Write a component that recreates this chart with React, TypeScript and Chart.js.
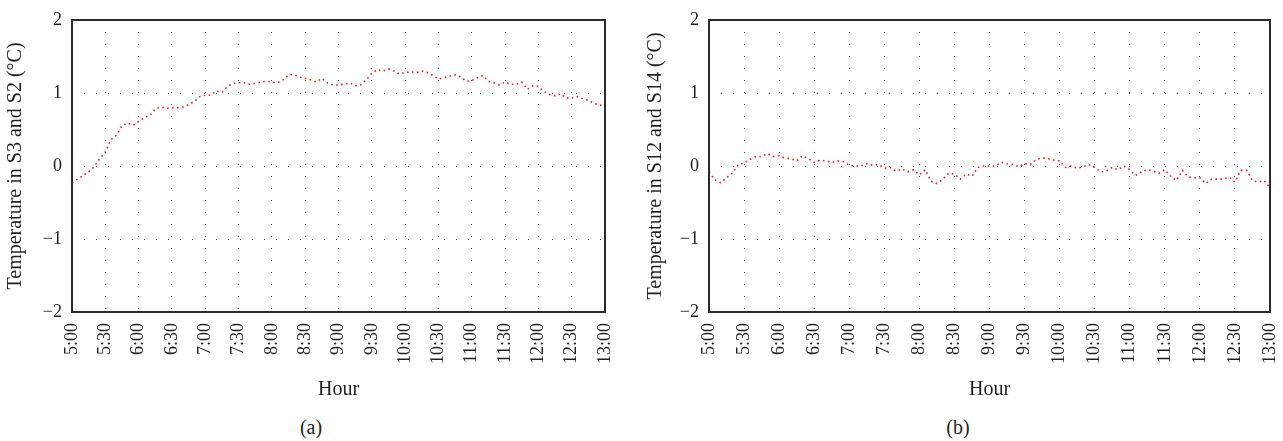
import React, { useEffect, useRef } from 'react';
import { Chart, registerables } from 'chart.js';

Chart.register(...registerables);

// Sampling step of the recorded series, in minutes after 5:00
const stepMinutes = 5;

const xTickLabels = [
  '5:00', '5:30', '6:00', '6:30', '7:00', '7:30', '8:00', '8:30', '9:00',
  '9:30', '10:00', '10:30', '11:00', '11:30', '12:00', '12:30', '13:00',
];

const yTickValues = [-2, -1, 0, 1, 2];

// (a) Temperature difference S3 - S2 (°C)
const seriesA = [
  -0.23, -0.18, -0.13, -0.08, -0.01, 0.1, 0.19, 0.36, 0.42, 0.55,
  0.59, 0.56, 0.61, 0.66, 0.69, 0.78, 0.81, 0.79, 0.8, 0.8,
  0.81, 0.84, 0.88, 0.95, 0.97, 0.97, 1.03, 1.01, 1.09, 1.13,
  1.14, 1.14, 1.12, 1.13, 1.15, 1.16, 1.15, 1.14, 1.18, 1.25,
  1.25, 1.22, 1.2, 1.18, 1.15, 1.2, 1.14, 1.11, 1.11, 1.12,
  1.14, 1.1, 1.11, 1.18, 1.27, 1.32, 1.3, 1.33, 1.3, 1.26,
  1.28, 1.29, 1.28, 1.3, 1.28, 1.24, 1.19, 1.21, 1.23, 1.25,
  1.22, 1.16, 1.17, 1.21, 1.24, 1.16, 1.14, 1.11, 1.15, 1.12,
  1.12, 1.15, 1.05, 1.1, 1.09, 1.02, 0.98, 0.96, 0.99, 0.93,
  0.93, 0.95, 0.92, 0.9, 0.86, 0.83, 0.84,
];

// (b) Temperature difference S12 - S14 (°C)
const seriesB = [
  -0.08, -0.19, -0.23, -0.16, -0.1, 0.02, 0.04, 0.09, 0.13, 0.13,
  0.17, 0.13, 0.14, 0.11, 0.1, 0.07, 0.14, 0.1, 0.05, 0.08,
  0.07, 0.05, 0.07, 0.06, 0.01, 0.0, 0.0, 0.03, 0.01, 0.02,
  -0.03, -0.02, -0.07, -0.04, -0.08, -0.05, -0.12, -0.05, -0.21, -0.24,
  -0.18, -0.1, -0.11, -0.18, -0.11, -0.14, -0.02, 0.0, 0.0, 0.0,
  0.05, 0.03, 0.02, -0.01, 0.03, 0.02, 0.09, 0.11, 0.1, 0.08,
  0.07, -0.02, 0.0, -0.03, -0.01, 0.02, -0.02, -0.08, -0.07, -0.02,
  -0.05, 0.0, -0.05, -0.13, -0.08, -0.05, -0.07, -0.1, -0.05, -0.14,
  -0.2, -0.06, -0.15, -0.16, -0.16, -0.24, -0.18, -0.18, -0.18, -0.15,
  -0.22, -0.06, -0.06, -0.2, -0.22, -0.2, -0.3,
];

const FONT = "'Liberation Serif', 'Times New Roman', serif";
const TEXT = '#231f20';

const framePlugin = {
  id: 'frame',
  afterDraw(chart: any) {
    const { ctx, chartArea: a } = chart;
    ctx.save();
    ctx.strokeStyle = '#2a2a2a';
    ctx.lineWidth = 2;
    ctx.strokeRect(a.left, a.top, a.right - a.left, a.bottom - a.top);
    ctx.restore();
  },
};

type Props = {
  values: number[];
  yTitle: string;
  left: number;
  width: number;
  yAxisWidth: number;
  padRight: number;
};

function TempChart({ values, yTitle, left, width, yAxisWidth, padRight }: Props) {
  const ref = useRef<HTMLCanvasElement>(null);
  const height = 402;

  useEffect(() => {
    if (!ref.current) return;
    const points = values.map((v, i) => ({ x: i * stepMinutes, y: v }));
    const chart = new Chart(ref.current, {
      type: 'line',
      data: {
        datasets: [
          {
            data: points,
            borderColor: '#e8202a',
            borderWidth: 1.6,
            borderDash: [1.6, 3.4],
            pointRadius: 0,
            tension: 0,
            fill: false,
          },
        ],
      },
      options: {
        responsive: false,
        animation: false,
        devicePixelRatio: 1,
        layout: { padding: { top: 20, right: padRight, left: 0, bottom: 0 } },
        plugins: { legend: { display: false }, tooltip: { enabled: false }, title: { display: false } },
        scales: {
          x: {
            type: 'linear',
            min: 0,
            max: (xTickLabels.length - 1) * 30,
            afterFit: (s: any) => {
              s.height = 90;
              s.paddingLeft = 0;
              s.paddingRight = 0;
            },
            ticks: {
              stepSize: 30,
              autoSkip: false,
              minRotation: 90,
              maxRotation: 90,
              padding: 11,
              color: TEXT,
              font: { family: FONT, size: 18 },
              callback: (v: any) => xTickLabels[Math.round(Number(v) / 30)] ?? '',
            },
            grid: { color: '#444', lineWidth: 1, drawTicks: false },
            border: { display: false, dash: [1, 11] },
            title: {
              display: true,
              text: 'Hour',
              color: TEXT,
              font: { family: FONT, size: 20 },
              padding: { top: 0, bottom: 0 },
            },
          },
          y: {
            type: 'linear',
            min: yTickValues[0],
            max: yTickValues[yTickValues.length - 1],
            afterFit: (s: any) => {
              s.width = yAxisWidth;
              s.paddingTop = 0;
              s.paddingBottom = 0;
            },
            ticks: {
              stepSize: 1,
              padding: 10,
              color: TEXT,
              font: { family: FONT, size: 18 },
              callback: (v: any) => {
                const n = Number(v);
                return n < 0 ? '\u2212' + Math.abs(n) : String(n);
              },
            },
            grid: { color: '#444', lineWidth: 1, drawTicks: false },
            border: { display: false, dash: [1, 11] },
            title: {
              display: true,
              text: yTitle,
              color: TEXT,
              font: { family: FONT, size: 20 },
              padding: { top: 4, bottom: 0 },
            },
          },
        },
      },
      plugins: [framePlugin],
    });
    return () => chart.destroy();
  }, [values, yTitle, yAxisWidth, padRight]);

  return (
    <canvas
      ref={ref}
      width={width}
      height={height}
      style={{ position: 'absolute', left, top: 0, width, height }}
    />
  );
}

function Caption({ text, cx }: { text: string; cx: number }) {
  return (
    <div
      style={{
        position: 'absolute',
        left: cx - 50,
        top: 415,
        width: 100,
        textAlign: 'center',
        fontFamily: FONT,
        fontSize: 20,
        lineHeight: '24px',
        color: TEXT,
      }}
    >
      {text}
    </div>
  );
}

export default function App() {
  return (
    <div style={{ position: 'absolute', left: 0, top: 0, width: 1283, height: 441, background: '#fff' }}>
      <TempChart
        values={seriesA}
        yTitle="Temperature in S3 and S2 (°C)"
        left={0}
        width={640}
        yAxisWidth={72}
        padRight={35}
      />
      <TempChart
        values={seriesB}
        yTitle="Temperature in S12 and S14 (°C)"
        left={640}
        width={643}
        yAxisWidth={69}
        padRight={13}
      />
      <Caption text="(a)" cx={311} />
      <Caption text="(b)" cx={958} />
    </div>
  );
}
